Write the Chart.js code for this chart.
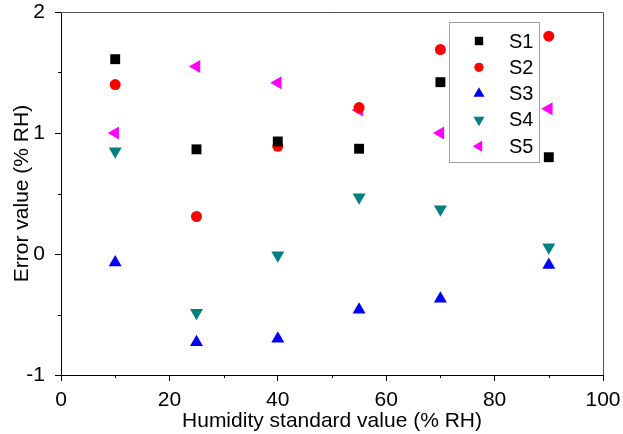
<!DOCTYPE html>
<html>
<head>
<meta charset="utf-8">
<script src="https://cdn.jsdelivr.net/npm/chart.js@4.4.0/dist/chart.umd.min.js"></script>
<style>
    html, body { margin: 0; padding: 0; background: #fff; }
    #wrap { width: 623px; height: 434px; }
</style>
</head>
<body>
<div id="wrap"><canvas id="chart" width="623" height="434"></canvas></div>
<script>
// humidity standard values (x) and error values for each sensor
const humidity = [10, 25, 40, 55, 70, 90];
const s1 = [1.61, 0.865, 0.93, 0.87, 1.42, 0.80];
const s2 = [1.40, 0.31, 0.89, 1.21, 1.69, 1.80];
const s3 = [-0.07, -0.73, -0.70, -0.46, -0.37, -0.09];
const s4 = [0.85, -0.485, -0.01, 0.47, 0.37, 0.055];
const s5 = [1.00, 1.55, 1.415, 1.19, 1.00, 1.20];
const seriesNames = ['S1', 'S2', 'S3', 'S4', 'S5'];
const xTicks = [0, 20, 40, 60, 80, 100];
const yTicks = [-1, 0, 1, 2];

Chart.defaults.font.family = "'Liberation Sans', Arial, sans-serif";
Chart.defaults.color = '#000';

const styles = [
    { color: '#000000', pointStyle: 'rect',     radius: 7,   rotation: 0 },
    { color: '#ff0000', pointStyle: 'circle',   radius: 5.5, rotation: 0 },
    { color: '#0000ff', pointStyle: 'triangle', radius: 7.5, rotation: 0 },
    { color: '#008080', pointStyle: 'triangle', radius: 7.5, rotation: 180 },
    { color: '#ff00ff', pointStyle: 'triangle', radius: 7.5, rotation: 270 }
];

const series = [s1, s2, s3, s4, s5];
const datasets = series.map((vals, i) => ({
    label: seriesNames[i],
    data: humidity.map((x, j) => ({ x, y: vals[j] })),
    pointStyle: styles[i].pointStyle,
    pointRadius: styles[i].radius,
    pointRotation: styles[i].rotation,
    backgroundColor: styles[i].color,
    borderColor: styles[i].color,
    borderWidth: 0,
    showLine: false
}));

// frame, minor ticks and legend box
const framePlugin = {
    id: 'frame',
    afterDraw(chart) {
        const ctx = chart.ctx;
        const a = chart.chartArea;
        ctx.save();
        ctx.strokeStyle = '#555';
        ctx.lineWidth = 1;
        ctx.beginPath();
        ctx.moveTo(a.left, a.top + 0.5);
        ctx.lineTo(a.right + 0.5, a.top + 0.5);
        ctx.lineTo(a.right + 0.5, a.bottom);
        ctx.stroke();

        // minor ticks halfway between majors
        ctx.strokeStyle = '#000';
        const xs = chart.scales.x, ys = chart.scales.y;
        ctx.beginPath();
        for (let i = 0; i < xTicks.length - 1; i++) {
            const px = Math.round(xs.getPixelForValue((xTicks[i] + xTicks[i + 1]) / 2)) + 0.5;
            ctx.moveTo(px, a.bottom);
            ctx.lineTo(px, a.bottom + 3);
        }
        for (let i = 0; i < yTicks.length - 1; i++) {
            const py = Math.round(ys.getPixelForValue((yTicks[i] + yTicks[i + 1]) / 2)) + 0.5;
            ctx.moveTo(a.left, py);
            ctx.lineTo(a.left - 3, py);
        }
        ctx.stroke();

        // legend
        const bx = 449.5, by = 22.5, bw = 90, bh = 140;
        ctx.strokeStyle = '#a0a0a0';
        ctx.strokeRect(bx, by, bw, bh);
        ctx.font = "20px 'Liberation Sans', Arial, sans-serif";
        ctx.textBaseline = 'middle';
        ctx.textAlign = 'left';
        seriesNames.forEach((name, i) => {
            const y = 41 + i * 26.3;
            const st = styles[i];
            ctx.fillStyle = st.color;
            ctx.strokeStyle = st.color;
            Chart.helpers.drawPoint(ctx, {
                pointStyle: st.pointStyle,
                radius: st.radius * 0.85,
                rotation: st.rotation,
                borderWidth: 0
            }, 479, y);
            ctx.fillStyle = '#000';
            ctx.fillText(name, 509, y + 1);
        });
        ctx.restore();
    }
};

new Chart(document.getElementById('chart'), {
    type: 'scatter',
    data: { datasets },
    plugins: [framePlugin],
    options: {
        responsive: false,
        animation: false,
        layout: { padding: { top: 12, right: 20, left: 0, bottom: 0 } },
        plugins: { legend: { display: false }, tooltip: { enabled: false } },
        scales: {
            x: {
                type: 'linear',
                min: 0,
                max: 100,
                afterBuildTicks: s => { s.ticks = xTicks.map(v => ({ value: v })); },
                afterFit: s => { s.height = 59; s.paddingLeft = 0; s.paddingRight = 0; },
                grid: { drawOnChartArea: false, drawTicks: true, tickLength: 6, color: '#000' },
                border: { display: true, color: '#000', width: 1 },
                ticks: { font: { size: 21 }, padding: 7, maxRotation: 0, color: '#000' },
                title: {
                    display: true,
                    text: 'Humidity standard value (% RH)',
                    font: { size: 21 },
                    color: '#000',
                    padding: { top: 0, bottom: 0 }
                }
            },
            y: {
                type: 'linear',
                min: -1,
                max: 2,
                afterBuildTicks: s => { s.ticks = yTicks.map(v => ({ value: v })); },
                afterFit: s => { s.width = 61; s.paddingTop = 0; s.paddingBottom = 0; },
                grid: { drawOnChartArea: false, drawTicks: true, tickLength: 6, color: '#000' },
                border: { display: true, color: '#000', width: 1 },
                ticks: { font: { size: 21 }, padding: 10, color: '#000' },
                title: {
                    display: true,
                    text: 'Error value (% RH)',
                    font: { size: 21 },
                    color: '#000',
                    padding: { top: 10, bottom: 0 }
                }
            }
        }
    }
});
</script>
</body>
</html>
